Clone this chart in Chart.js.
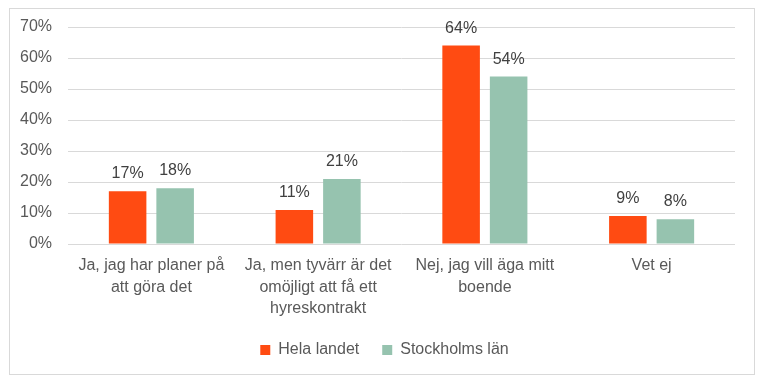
<!DOCTYPE html>
<html>
<head>
<meta charset="utf-8">
<script src="https://cdn.jsdelivr.net/npm/chart.js@4/dist/chart.umd.min.js"></script>
<style>
  html, body { margin: 0; padding: 0; background: #fff; }
  #wrap { position: relative; width: 772px; height: 389px; }
  #frame { position: absolute; left: 9px; top: 8px; width: 744px; height: 365px;
           border: 1px solid #d9d9d9; pointer-events: none; }
</style>
</head>
<body>
<div id="wrap">
  <canvas id="chart" width="772" height="389"></canvas>
  <div id="frame"></div>
</div>
<script>
// Data
const categories = [
  ['Ja, jag har planer på', 'att göra det'],
  ['Ja, men tyvärr är det', 'omöjligt att få ett', 'hyreskontrakt'],
  ['Nej, jag vill äga mitt', 'boende'],
  ['Vet ej']
];
const helaLandet = [17, 11, 64, 9];
const stockholmsLan = [18, 21, 54, 8];
const helaLabels = ['17%', '11%', '64%', '9%'];
const stockholmLabels = ['18%', '21%', '54%', '8%'];

const FONT = '"Liberation Sans", Arial, sans-serif';

// Small plugin that writes the value labels above each bar
const barLabels = {
  id: 'barLabels',
  afterDatasetsDraw(chart) {
    const ctx = chart.ctx;
    ctx.save();
    ctx.font = '16px ' + FONT;
    ctx.fillStyle = '#404040';
    ctx.textAlign = 'center';
    ctx.textBaseline = 'alphabetic';
    chart.data.datasets.forEach((ds, i) => {
      const meta = chart.getDatasetMeta(i);
      meta.data.forEach((bar, j) => {
        ctx.fillText(ds.valueLabels[j], bar.x, bar.y - 13);
      });
    });
    ctx.restore();
  }
};

// Nudge the legend a bit to the right so it sits under the plot centre
const legendShift = {
  id: 'legendShift',
  afterLayout(chart) {
    if (chart.legend) {
      chart.legend.left += 7;
      chart.legend.right += 7;
    }
  }
};

const ctx = document.getElementById('chart').getContext('2d');
new Chart(ctx, {
  type: 'bar',
  data: {
    labels: categories,
    datasets: [
      {
        label: 'Hela landet',
        data: helaLandet,
        valueLabels: helaLabels,
        backgroundColor: '#ff4b12',
        categoryPercentage: 0.57,
        barPercentage: 0.79
      },
      {
        label: 'Stockholms län',
        data: stockholmsLan,
        valueLabels: stockholmLabels,
        backgroundColor: '#96c3af',
        categoryPercentage: 0.57,
        barPercentage: 0.79
      }
    ]
  },
  options: {
    responsive: false,
    animation: false,
    layout: { padding: { left: 20, right: 37, top: 27, bottom: 21 } },
    plugins: {
      tooltip: { enabled: false },
      legend: {
        position: 'bottom',
        labels: {
          boxWidth: 10,
          boxHeight: 10,
          padding: 23,
          color: '#595959',
          font: { family: FONT, size: 16 }
        }
      }
    },
    scales: {
      x: {
        grid: { display: false, drawTicks: false },
        border: { display: false },
        ticks: {
          color: '#595959',
          padding: 11,
          maxRotation: 0,
          autoSkip: false,
          font: { family: FONT, size: 16, lineHeight: 1.35 }
        },
        afterFit(scale) {
          scale.height = 75;
          scale.paddingLeft = 0;
          scale.paddingRight = 0;
        }
      },
      y: {
        min: 0,
        max: 70,
        grid: { color: '#d9d9d9', drawTicks: false },
        border: { display: false },
        ticks: {
          stepSize: 10,
          padding: 16,
          color: '#595959',
          font: { family: FONT, size: 16 },
          callback: v => v + '%'
        },
        afterFit(scale) { scale.width = 48; }
      }
    }
  },
  plugins: [barLabels, legendShift]
});
</script>
</body>
</html>
